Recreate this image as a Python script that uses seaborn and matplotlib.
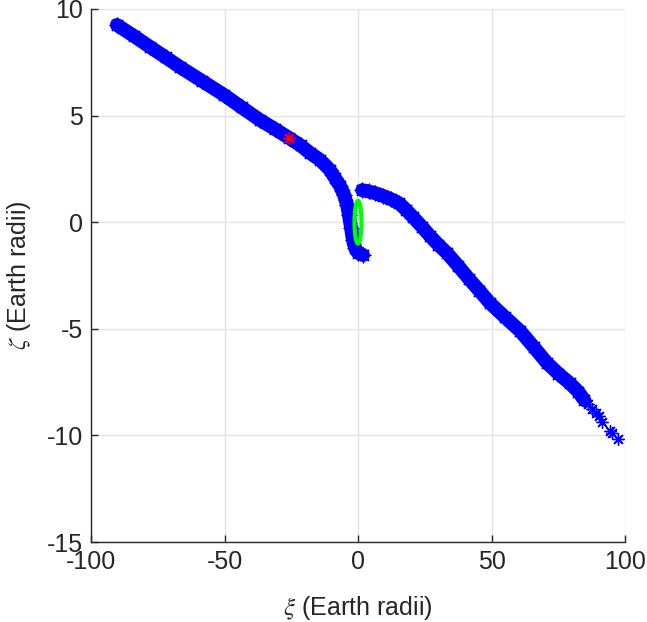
import numpy as np
import pandas as pd
import matplotlib
matplotlib.use('Agg')
import matplotlib.pyplot as plt
from matplotlib.patches import Ellipse
import seaborn as sns

# upper-left branch (xi, zeta)
left_xi = [-90.3, -84.0, -77.9, -72.0, -66.7, -58.5, -50.2, -43.5, -36.7, -31.0, -25.8,
           -21.5, -18.0, -14.2, -10.5, -8.6, -6.7, -5.2, -4.1, -3.4, -2.6,
           -1.9, -1.1, 0.0, 1.9]
left_zeta = [9.25, 8.74, 8.22, 7.73, 7.28, 6.63, 5.97, 5.38, 4.79, 4.36, 3.95,
             3.60, 3.25, 2.92, 2.45, 2.07, 1.70, 1.28, 0.81, 0.34, -0.27,
             -0.83, -1.21, -1.44, -1.54]

# right branch, dense part
right_xi = [1.6, 4.0, 6.5, 9.4, 12.5, 15.5, 18.0, 20.6, 24.0, 27.0, 30.0, 33.3,
            37.5, 41.5, 45.5, 49.4, 55.0, 60.7, 65.8, 70.8, 75.0, 79.4, 82.5, 84.8]
right_zeta = [1.50, 1.44, 1.36, 1.23, 1.07, 0.88, 0.58, 0.24, -0.22, -0.65, -1.05, -1.44,
              -2.05, -2.65, -3.22, -3.79, -4.45, -5.10, -5.85, -6.60, -7.10, -7.56, -7.95, -8.35]

# sparse tail of the right branch
tail_xi = [86.2, 87.6, 89.0, 90.2, 91.4, 94.3, 95.1, 97.4]
tail_zeta = [-8.52, -8.75, -8.95, -9.10, -9.37, -9.80, -9.90, -10.17]

# reference point
red_xi = [-25.8]
red_zeta = [3.95]

left = pd.DataFrame({'xi': left_xi, 'zeta': left_zeta})
right = pd.DataFrame({'xi': right_xi, 'zeta': right_zeta})
tail = pd.DataFrame({'xi': tail_xi, 'zeta': tail_zeta})
red = pd.DataFrame({'xi': red_xi, 'zeta': red_zeta})

sns.set_style('ticks')
plt.rcParams['font.family'] = ['Liberation Sans', 'DejaVu Sans']
plt.rcParams['mathtext.fontset'] = 'stix'
plt.rcParams['axes.unicode_minus'] = False

star = (8, 2, 0)  # asterisk, like matlab '*'

fig = plt.figure(figsize=(6.47, 6.22), dpi=100)
ax = fig.add_axes([91/647, 1 - 542/622, 534/647, 533/622])

for d in [left, right]:
    sns.lineplot(data=d, x='xi', y='zeta', ax=ax, sort=False, estimator=None,
                 color='#0000ff', linewidth=10, zorder=3)
    sns.scatterplot(data=d, x='xi', y='zeta', ax=ax, marker=star, s=110,
                    color='#0000ff', edgecolor='#0000ff', linewidth=1.0, zorder=3)
sns.scatterplot(data=tail, x='xi', y='zeta', ax=ax, marker=star, s=70,
                color='#0000ff', edgecolor='#0000ff', linewidth=1.0, zorder=3)
sns.scatterplot(data=red, x='xi', y='zeta', ax=ax, marker=star, s=60,
                color='#ff0000', edgecolor='#ff0000', linewidth=1.0, zorder=4)

ax.add_patch(Ellipse((0, 0), 2.6, 2.0, fill=False, edgecolor='#00ff00', linewidth=3, zorder=5))

ax.set_xlim(-100, 100)
ax.set_ylim(-15, 10)
ax.set_xticks([-100, -50, 0, 50, 100])
ax.set_yticks([-15, -10, -5, 0, 5, 10])
ax.grid(True, color='#e3e3e3', linewidth=1)
ax.set_axisbelow(True)
for s in ['top', 'right']:
    ax.spines[s].set_visible(False)
for s in ['left', 'bottom']:
    ax.spines[s].set_color('#262626')
    ax.spines[s].set_linewidth(1)
ax.tick_params(direction='in', length=5, width=1, colors='#262626', labelsize=18, pad=6)

ax.set_xlabel(r'$\xi$ (Earth radii)', fontsize=18, color='#262626', labelpad=14)
ax.set_ylabel(r'$\zeta$ (Earth radii)', fontsize=18, color='#262626', labelpad=10)

fig.savefig('out.png', dpi=100)
